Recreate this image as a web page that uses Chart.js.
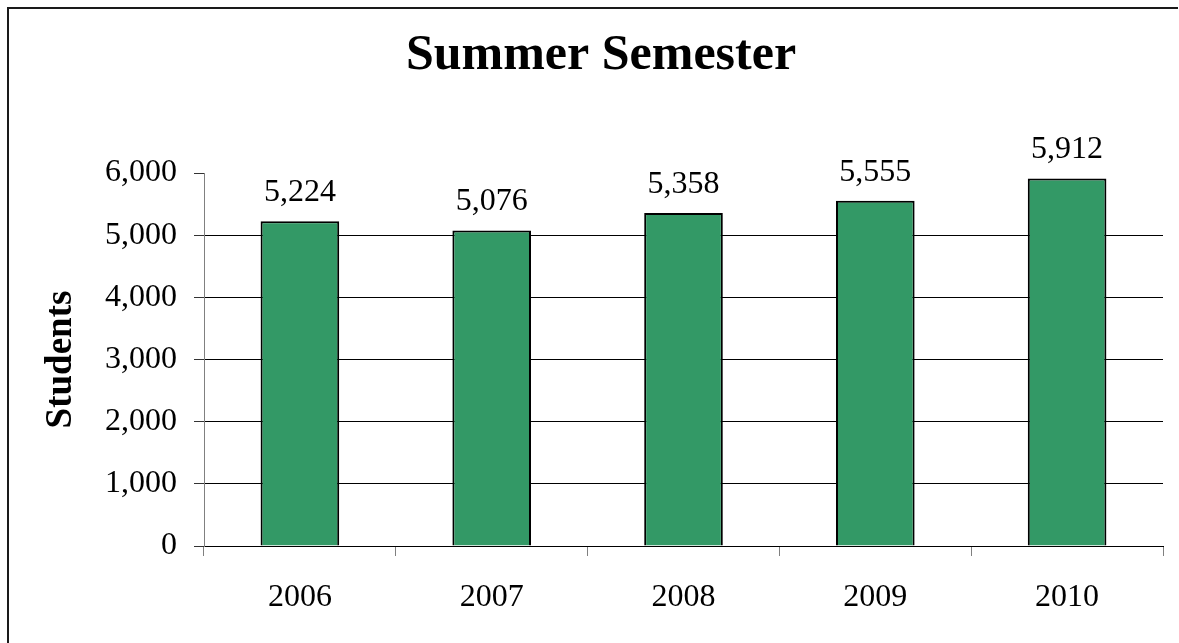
<!DOCTYPE html>
<html>
<head>
<meta charset="utf-8">
<title>Summer Semester</title>
<script src="https://cdn.jsdelivr.net/npm/chart.js@4"></script>
<style>
  html, body { margin: 0; padding: 0; background: #fff; overflow: hidden; }
  #grafico { display: block; }
</style>
</head>
<body>
<canvas id="grafico" width="1179" height="643"></canvas>
<script>
const anos = ["2006", "2007", "2008", "2009", "2010"];
const alunos = [5224, 5076, 5358, 5555, 5912];
const ticksY = [0, 1000, 2000, 3000, 4000, 5000, 6000];
const titulo = "Summer Semester";

const fonte = "'Liberation Serif', 'Times New Roman', serif";

// moldura, título e rótulos de valor
const extras = {
  id: "extras",
  beforeDraw(chart) {
    const ctx = chart.ctx;
    ctx.save();
    ctx.strokeStyle = "#1a1a1a";
    ctx.lineWidth = 2;
    ctx.beginPath();
    ctx.moveTo(8, chart.height + 5);
    ctx.lineTo(8, 8);
    ctx.lineTo(chart.width - 1, 8);
    ctx.stroke();
    ctx.restore();
  },
  afterDraw(chart) {
    const ctx = chart.ctx;
    ctx.save();
    ctx.fillStyle = "#000";
    ctx.textAlign = "center";
    ctx.textBaseline = "alphabetic";
    ctx.font = "bold 50px " + fonte;
    ctx.fillText(titulo, 601, 69);
    ctx.font = "32px " + fonte;
    const meta = chart.getDatasetMeta(0);
    meta.data.forEach((bar, i) => {
      ctx.fillText(alunos[i].toLocaleString("en-US"), bar.x, bar.y - 20);
    });
    ctx.restore();
  },
};

new Chart(document.getElementById("grafico"), {
  type: "bar",
  data: {
    labels: anos,
    datasets: [
      {
        label: "Students",
        data: alunos,
        backgroundColor: "#339966",
        borderColor: "#000",
        borderWidth: 2,
        barPercentage: 0.41,
        categoryPercentage: 1,
      },
    ],
  },
  options: {
    responsive: false,
    animation: false,
    layout: { padding: { top: 173, left: 0, right: 16, bottom: 0 } },
    plugins: {
      legend: { display: false },
      tooltip: { enabled: false },
      title: { display: false },
    },
    scales: {
      x: {
        afterFit: (s) => { s.height = 97; },
        grid: {
          display: true,
          offset: true,
          drawOnChartArea: false,
          tickLength: 10,
          tickColor: "#808080",
        },
        border: { color: "#000", width: 1 },
        ticks: {
          color: "#000",
          padding: 22,
          font: { family: fonte, size: 32 },
        },
      },
      y: {
        min: 0,
        max: 6000,
        afterFit: (s) => { s.width = 204; },
        afterBuildTicks: (s) => { s.ticks = ticksY.map((v) => ({ value: v })); },
        grid: {
          color: (c) => (c.tick && c.tick.value === 6000 ? "rgba(0,0,0,0)" : "#000"),
          tickLength: 10,
          tickColor: "#333",
        },
        border: { color: "#808080", width: 1 },
        ticks: {
          color: "#000",
          padding: 17,
          font: { family: fonte, size: 32 },
          callback: (v) => v.toLocaleString("en-US"),
        },
        title: {
          display: true,
          text: "Students",
          color: "#000",
          font: { family: fonte, size: 37, weight: "bold", lineHeight: 1.2 },
          padding: { top: 39, bottom: 0 },
        },
      },
    },
  },
  plugins: [extras],
});
</script>
</body>
</html>
